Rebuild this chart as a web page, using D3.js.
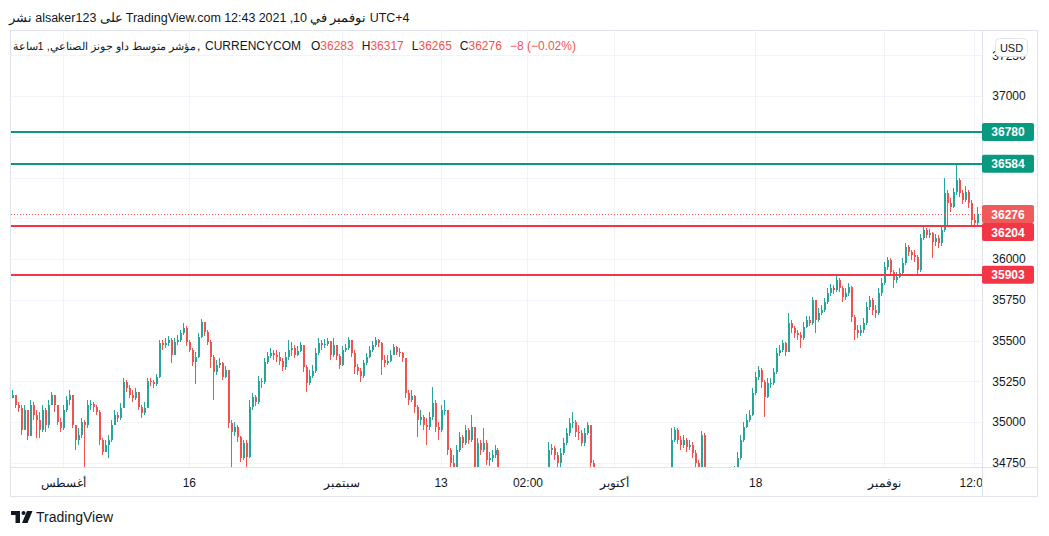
<!DOCTYPE html>
<html><head><meta charset="utf-8">
<script src="https://cdn.jsdelivr.net/npm/d3@7"></script>
<style>
html,body{margin:0;padding:0;background:#fff;}
svg{display:block;font-family:Arial,"Liberation Sans",sans-serif;}
</style></head><body>
<svg id="chart" width="1049" height="536"></svg>
<script>
// ---------- DATA ----------
const firstOpen = 35150;
const closes = [
35165,35104,35086,34951,35074,34914,35104,35043,35012,34951,
35074,34981,35104,35165,35104,35000,34963,35074,35135,35165,
34981,34890,34920,35000,34981,35104,35110,35092,35062,34890,
34816,34859,34890,34981,35043,35025,35086,35245,35208,35165,
35147,35184,35092,35055,35086,35252,35245,35233,35276,35485,
35473,35485,35504,35411,35491,35504,35546,35577,35491,35442,
35368,35399,35522,35614,35552,35491,35399,35307,35350,35362,
35276,35319,34994,34939,34969,34908,34779,34871,34785,35092,
35153,35123,35252,35245,35368,35405,35424,35411,35399,35375,
35338,35399,35442,35454,35411,35436,35473,35338,35239,35282,
35313,35424,35485,35473,35479,35497,35411,35473,35405,35350,
35442,35454,35504,35424,35338,35313,35282,35362,35399,35442,
35473,35504,35485,35381,35362,35375,35411,35460,35430,35424,
35393,35178,35135,35159,35092,35012,35031,34981,34969,35031,
35117,34969,34951,35074,35074,34828,34748,34675,34828,34908,
34871,34951,34890,34969,34644,34871,34828,34871,34767,34779,
34797,34828,34706,34613,34583,34552,34522,34491,34534,34510,
34473,34522,34552,34583,34571,34613,34644,34675,34706,34828,
34840,34797,34748,34810,34871,34933,34994,35000,34939,34933,
34871,34933,34981,34748,34675,34613,34552,34491,34448,34399,
34430,34368,34338,34387,34350,34307,34350,34399,34430,34473,
34448,34491,34534,34522,34565,34595,34613,34644,34657,34706,
34890,34951,34890,34859,34890,34847,34859,34810,34748,34706,
34920,34675,34613,34552,34522,34491,34534,34571,34595,34632,
34669,34706,34779,34890,34969,35012,35043,35178,35276,35319,
35245,35153,35239,35239,35307,35424,35442,35485,35430,35607,
35577,35546,35534,35516,35583,35626,35607,35749,35626,35669,
35687,35736,35791,35822,35810,35871,35822,35767,35791,35828,
35644,35565,35546,35565,35607,35706,35749,35687,35669,35791,
35853,35951,35994,35920,35871,35890,35914,35976,36074,36043,
36025,36012,35933,36129,36178,36147,36160,36104,36129,36098,
36178,36405,36344,36319,36411,36485,36405,36362,36411,36344,
36239,36221,36276];
const highs = [
35196,35165,35123,35104,35104,35074,35135,35123,35074,35062,
35104,35086,35135,35184,35165,35104,35025,35104,35159,35196,
35165,34981,34963,35025,35012,35135,35135,35123,35104,35074,
34902,34890,34920,35012,35074,35062,35117,35270,35258,35227,
35196,35208,35184,35104,35123,35270,35270,35258,35294,35504,
35504,35516,35528,35516,35516,35534,35565,35607,35589,35504,
35454,35430,35546,35632,35614,35565,35504,35411,35381,35393,
35368,35344,35319,35012,35000,34981,34914,34890,34890,35135,
35178,35165,35282,35270,35393,35430,35454,35442,35442,35430,
35393,35430,35504,35491,35473,35467,35491,35473,35350,35319,
35350,35454,35516,35504,35510,35516,35497,35516,35473,35417,
35467,35479,35522,35504,35442,35356,35331,35381,35424,35467,
35497,35522,35510,35491,35411,35411,35442,35479,35467,35454,
35430,35393,35196,35196,35165,35104,35074,35043,35025,35062,
35215,35135,35000,35104,35135,35074,34840,34797,34859,34939,
34920,34981,34963,35043,34969,34902,34890,34963,34890,34816,
34828,34859,34840,34706,34632,34595,34571,34534,34558,34552,
34522,34552,34583,34613,34607,34644,34681,34706,34718,34878,
34865,34853,34816,34840,34902,34963,35025,35062,35012,34981,
34951,34963,35000,34981,34767,34675,34613,34552,34510,34460,
34460,34448,34399,34411,34399,34368,34387,34430,34473,34510,
34497,34522,34558,34571,34595,34632,34657,34675,34693,34718,
34963,34969,34963,34914,34920,34902,34890,34878,34828,34767,
34945,34933,34675,34613,34571,34534,34558,34595,34632,34669,
34693,34730,34816,34920,35000,35049,35074,35208,35307,35344,
35331,35258,35270,35270,35331,35454,35473,35504,35491,35669,
35626,35589,35565,35552,35614,35650,35650,35767,35749,35699,
35718,35761,35822,35847,35840,35902,35883,35835,35822,35853,
35835,35657,35595,35595,35638,35736,35773,35761,35718,35822,
35883,35982,36012,36006,35933,35920,35945,36006,36098,36086,
36055,36055,36025,36154,36196,36190,36184,36166,36154,36147,
36209,36497,36423,36374,36436,36575,36497,36423,36448,36423,
36362,36270,36317];
const lows = [
35147,35086,35062,34920,34951,34890,34914,35012,34902,34902,
34939,34939,34963,35104,35062,34981,34939,34951,35062,35104,
34963,34828,34859,34902,34718,34963,35074,35062,35043,34859,
34797,34816,34779,34878,34981,35000,35012,35086,35184,35147,
35123,35135,35074,35025,35043,35086,35221,35208,35221,35270,
35442,35454,35467,35362,35442,35473,35491,35534,35467,35430,
35344,35233,35393,35516,35528,35473,35331,35135,35288,35331,
35258,35270,34963,34706,34914,34878,34755,34767,34706,34779,
35074,35098,35110,35208,35233,35356,35393,35381,35368,35350,
35313,35319,35381,35405,35393,35405,35430,35307,35184,35227,
35270,35301,35411,35442,35454,35467,35381,35399,35381,35325,
35344,35430,35442,35399,35294,35288,35245,35270,35350,35393,
35430,35460,35460,35288,35338,35350,35368,35411,35411,35399,
35368,35147,35104,35123,35055,34908,34981,34951,34859,34951,
35012,34939,34890,34939,35043,34797,34644,34613,34657,34816,
34840,34859,34865,34878,34583,34613,34797,34816,34736,34730,
34755,34779,34644,34583,34534,34510,34485,34460,34473,34473,
34448,34460,34510,34534,34546,34558,34595,34632,34657,34693,
34797,34767,34706,34718,34797,34859,34914,34963,34908,34890,
34853,34853,34920,34706,34632,34583,34522,34448,34411,34362,
34368,34338,34301,34325,34313,34276,34288,34338,34387,34411,
34423,34436,34473,34491,34510,34546,34583,34595,34620,34644,
34693,34878,34865,34828,34840,34816,34828,34779,34706,34657,
34693,34613,34571,34522,34485,34460,34485,34522,34552,34583,
34613,34657,34693,34767,34878,34963,35000,35037,35165,35258,
35208,35031,35147,35208,35227,35294,35405,35430,35405,35430,
35546,35516,35504,35454,35504,35577,35589,35595,35546,35614,
35656,35675,35724,35773,35785,35798,35798,35736,35749,35773,
35614,35504,35516,35528,35546,35595,35687,35656,35638,35656,
35773,35841,35933,35896,35822,35853,35883,35896,35963,36018,
35994,35982,35902,35920,36117,36129,36129,36006,36080,36067,
36080,36166,36209,36288,36313,36393,36380,36337,36350,36313,
36196,36196,36210];

const priceTicks = [34750,35000,35250,35500,35750,36000,36250,36500,36750,37000,37250];
const priceDomain = [34724,37399];
const timeTickIndex = [17,59,110,143,172,201,248,291,321];
const timeTickLabels = ["أغسطس","16","سبتمبر","13","02:00","أكتوبر","18","نوفمبر","12:00"];
const levelValues = [36780,36584,36204,35903];
const levelColors = ["#089981","#089981","#f23645","#f23645"];
const lastPrice = 36276;
const headerPieces = ["نشر","alsaker123","على","TradingView.com","12:43","2021",",10","في","نوفمبر","UTC+4"];
const legendTitle = "مؤشر متوسط داو جونز الصناعي, 1ساعة";
const legendSymbol = "CURRENCYCOM";
const ohlcKeys = ["O","H","L","C"];
const ohlcValues = ["36283","36317","36265","36276"];
const legendChange = "−8 (−0.02%)";

// ---------- LAYOUT ----------
const W=1049,H=536,L=11,R=982,T=31,B=467,AX_R=1037,AX_B=496;
const UP="#26a69a",DOWN="#ef5350",TXT="#131722",GRID="#f0f3fa",BORDER="#e0e3eb";
const svg=d3.select("#chart");
svg.append("rect").attr("width",W).attr("height",H).attr("fill","#fff");

const N=closes.length;
const x=d3.scaleLinear().domain([0,N-1]).range([12,977]);
const y=d3.scaleLinear().domain(priceDomain).range([B,T]);

const defs=svg.append("defs");
defs.append("clipPath").attr("id","plotClip").append("rect").attr("x",L).attr("y",T).attr("width",R-L).attr("height",B-T);
defs.append("clipPath").attr("id","pAxClip").append("rect").attr("x",R).attr("y",T).attr("width",AX_R-R).attr("height",B-T);
defs.append("clipPath").attr("id","tAxClip").append("rect").attr("x",L).attr("y",B).attr("width",R-L).attr("height",AX_B-B);

// grid
const grid=svg.append("g").attr("shape-rendering","crispEdges");
grid.selectAll("line.h").data(priceTicks).join("line").attr("class","h")
  .attr("x1",L).attr("x2",R).attr("y1",d=>Math.round(y(d))+0.5).attr("y2",d=>Math.round(y(d))+0.5)
  .attr("stroke",GRID).attr("stroke-width",1);
grid.selectAll("line.v").data(timeTickIndex).join("line").attr("class","v")
  .attr("y1",T).attr("y2",B).attr("x1",d=>Math.round(x(d))+0.5).attr("x2",d=>Math.round(x(d))+0.5)
  .attr("stroke",GRID).attr("stroke-width",1);

// candles
const candles=closes.map((c,i)=>{const o=i===0?firstOpen:closes[i-1];return {i,o,c,h:Math.max(highs[i],o,c),l:Math.min(lows[i],o,c)};});
const plot=svg.append("g").attr("clip-path","url(#plotClip)").attr("shape-rendering","crispEdges");
plot.selectAll("rect.wick").data(candles).join("rect").attr("class","wick")
  .attr("x",d=>Math.round(x(d.i))).attr("width",1)
  .attr("y",d=>y(d.h)).attr("height",d=>Math.max(1,y(d.l)-y(d.h)))
  .attr("fill",d=>d.c>=d.o?UP:DOWN);
plot.selectAll("rect.body").data(candles).join("rect").attr("class","body")
  .attr("x",d=>Math.round(x(d.i))).attr("width",2)
  .attr("y",d=>y(Math.max(d.o,d.c))).attr("height",d=>Math.max(1,Math.abs(y(d.o)-y(d.c))))
  .attr("fill",d=>d.c>=d.o?UP:DOWN);

// horizontal levels
const lv=svg.append("g").attr("clip-path","url(#plotClip)");
lv.append("line").attr("x1",L).attr("x2",R).attr("y1",Math.round(y(lastPrice))+0.5).attr("y2",Math.round(y(lastPrice))+0.5)
  .attr("stroke",DOWN).attr("stroke-width",1).attr("stroke-dasharray","1,2");
lv.selectAll("line.lvl").data(levelValues).join("line").attr("class","lvl")
  .attr("x1",L).attr("x2",R).attr("y1",d=>Math.round(y(d))).attr("y2",d=>Math.round(y(d)))
  .attr("stroke",(d,i)=>levelColors[i]).attr("stroke-width",2);

// frame
const fr=svg.append("g").attr("shape-rendering","crispEdges").attr("stroke",BORDER).attr("fill","none");
fr.append("rect").attr("x",10.5).attr("y",30.5).attr("width",AX_R-10).attr("height",AX_B-30);
fr.append("line").attr("x1",R+0.5).attr("x2",R+0.5).attr("y1",30).attr("y2",AX_B);
fr.append("line").attr("x1",10).attr("x2",AX_R).attr("y1",B+0.5).attr("y2",B+0.5);

// badges
const badges=levelValues.map((v,i)=>({v,col:levelColors[i]}));
badges.push({v:lastPrice,col:"#ef5b5b"});
badges.sort((a,b)=>b.v-a.v);
let prev=-1e9;
badges.forEach(b=>{let cy=y(b.v); if(cy<prev+18) cy=prev+18; b.cy=cy; prev=cy;});

// price axis (labels under the USD button are clipped away by the button area)
const pax=svg.append("g").attr("clip-path","url(#pAxClip)");
const axR=d3.axisRight(y).tickValues(priceTicks).tickSize(0).tickPadding(0).tickFormat(d3.format("d"));
const pg=pax.append("g").attr("transform",`translate(${1009},0)`).call(axR);
pg.select(".domain").remove();
pg.selectAll("text").attr("x",0).attr("text-anchor","middle").attr("fill",TXT)
  .style("font-size","12px").style("font-family","Arial, 'Liberation Sans', sans-serif")
  .attr("display",d=>badges.some(b=>Math.abs(b.cy-y(d))<14)?"none":null);
// top label partly hidden by the USD button: keep only its lower sliver visible
pg.selectAll(".tick").filter(d=>y(d)<60).select("text").attr("clip-path",null);

const bg=svg.append("g");
bg.selectAll("rect").data(badges).join("rect").attr("x",R).attr("width",52).attr("y",d=>d.cy-9).attr("height",18)
  .attr("rx",2).attr("fill",d=>d.col);
bg.selectAll("text").data(badges).join("text").attr("x",1008).attr("y",d=>d.cy+4.5).attr("text-anchor","middle")
  .attr("fill","#fff").style("font-size","12px").style("font-weight","bold").text(d=>d.v);

// USD button
svg.append("rect").attr("x",995.5).attr("y",38.5).attr("width",32).attr("height",18).attr("rx",4)
  .attr("fill","#fff").attr("stroke",BORDER);
svg.append("text").attr("x",1011.5).attr("y",51.5).attr("text-anchor","middle").attr("fill",TXT)
  .style("font-size","11px").text("USD");

// time axis
const tax=svg.append("g").attr("clip-path","url(#tAxClip)");
const axB=d3.axisBottom(x).tickValues(timeTickIndex).tickSize(0).tickPadding(0).tickFormat((d,i)=>timeTickLabels[i]);
const tg=tax.append("g").attr("transform",`translate(0,${B})`).call(axB);
tg.select(".domain").remove();
tg.selectAll("text").attr("y",20).attr("dy",null).attr("fill",TXT)
  .style("font-size","12px").style("font-family","Arial, 'Liberation Sans', sans-serif");

// header
let hx=9;
headerPieces.forEach(p=>{
  const t=svg.append("text").attr("x",hx).attr("y",22).attr("fill",TXT).style("font-size","12.5px").text(p);
  hx+=t.node().getComputedTextLength()+3.2;
});

// legend
const lg=svg.append("g").style("font-size","12px");
lg.append("text").attr("x",196).attr("y",50).attr("text-anchor","end").attr("fill",TXT)
  .style("font-size","11px").text(legendTitle);
lg.append("text").attr("x",197).attr("y",50).attr("fill",TXT).text(",");
let lx=205;
const sym=lg.append("text").attr("x",lx).attr("y",50).attr("fill",TXT).text(legendSymbol);
lx+=sym.node().getComputedTextLength()+10;
ohlcKeys.forEach((k,i)=>{
  const t=lg.append("text").attr("x",lx).attr("y",50);
  t.append("tspan").attr("fill",TXT).text(k);
  t.append("tspan").attr("fill",DOWN).text(ohlcValues[i]);
  lx+=t.node().getComputedTextLength()+8;
});
lg.append("text").attr("x",lx).attr("y",50).attr("fill",DOWN).text(legendChange);

// footer logo
const logo=svg.append("g").attr("fill",TXT);
logo.append("path").attr("d","M11 511 H20 V523 H15.5 V515 H11 Z");
logo.append("circle").attr("cx",23.5).attr("cy",513).attr("r",2);
logo.append("path").attr("d","M27 511 H32.5 L27.5 523 H22 Z");
svg.append("text").attr("x",36).attr("y",522).attr("fill",TXT).style("font-size","14px").text("TradingView");
</script>
</body></html>
